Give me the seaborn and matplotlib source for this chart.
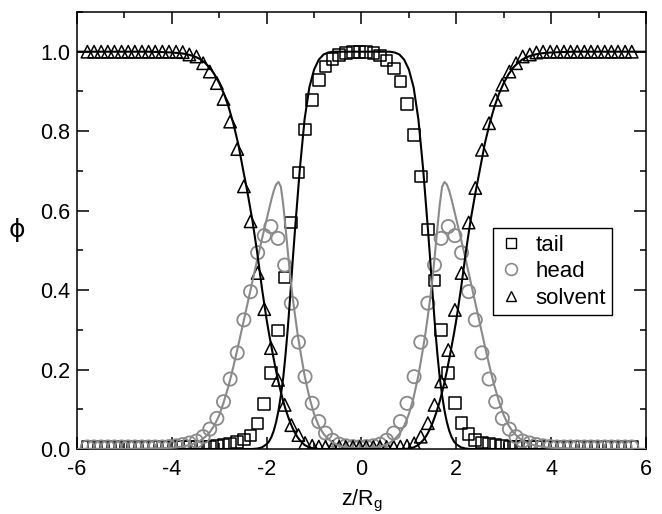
import matplotlib
matplotlib.use("Agg")
import matplotlib.pyplot as plt
import seaborn as sns
import pandas as pd
from matplotlib.lines import Line2D
from matplotlib.ticker import MultipleLocator

# ---------------- data ----------------
# simulation points (markers)
Z = [-5.78, -5.64, -5.49, -5.35, -5.21, -5.06, -4.92, -4.78, -4.63, -4.49,
     -4.35, -4.20, -4.06, -3.91, -3.77, -3.63, -3.48, -3.34, -3.20, -3.05,
     -2.91, -2.77, -2.62, -2.48, -2.34, -2.19, -2.05, -1.91, -1.76, -1.62,
     -1.48, -1.33, -1.19, -1.04, -0.90, -0.76, -0.61, -0.47, -0.33, -0.18,
     -0.04, 0.10, 0.25, 0.39, 0.53, 0.68, 0.82, 0.96, 1.11, 1.25,
     1.40, 1.54, 1.68, 1.83, 1.97, 2.11, 2.26, 2.40, 2.54, 2.69,
     2.83, 2.97, 3.12, 3.26, 3.40, 3.55, 3.69, 3.83, 3.98, 4.12,
     4.27, 4.41, 4.55, 4.70, 4.84, 4.98, 5.13, 5.27, 5.41, 5.56, 5.70]

TAIL = [0.005, 0.005, 0.005, 0.005, 0.005, 0.005, 0.005, 0.005, 0.005, 0.005,
        0.005, 0.005, 0.005, 0.005, 0.005, 0.005, 0.005, 0.005, 0.006, 0.008,
        0.010, 0.013, 0.018, 0.024, 0.034, 0.064, 0.113, 0.192, 0.298, 0.432,
        0.570, 0.696, 0.804, 0.879, 0.929, 0.963, 0.981, 0.992, 0.997, 0.999,
        1.000, 0.999, 0.997, 0.990, 0.978, 0.958, 0.925, 0.869, 0.791, 0.686,
        0.552, 0.424, 0.300, 0.192, 0.115, 0.066, 0.038, 0.022, 0.016, 0.012,
        0.010, 0.008, 0.006, 0.005, 0.005, 0.005, 0.005, 0.005, 0.005, 0.005,
        0.005, 0.005, 0.005, 0.005, 0.005, 0.005, 0.005, 0.005, 0.005, 0.005, 0.005]

HEAD = [0.005, 0.005, 0.005, 0.005, 0.005, 0.005, 0.005, 0.005, 0.005, 0.005,
        0.005, 0.005, 0.006, 0.008, 0.011, 0.015, 0.020, 0.031, 0.050, 0.077,
        0.119, 0.176, 0.242, 0.325, 0.396, 0.494, 0.537, 0.560, 0.530, 0.463,
        0.367, 0.269, 0.182, 0.115, 0.069, 0.040, 0.022, 0.012, 0.008, 0.006,
        0.005, 0.006, 0.008, 0.012, 0.022, 0.040, 0.069, 0.115, 0.182, 0.269,
        0.367, 0.463, 0.530, 0.560, 0.537, 0.494, 0.396, 0.325, 0.242, 0.176,
        0.119, 0.077, 0.050, 0.031, 0.020, 0.015, 0.011, 0.008, 0.006, 0.005,
        0.005, 0.005, 0.005, 0.005, 0.005, 0.005, 0.005, 0.005, 0.005, 0.005, 0.005]

SOLVENT = [1.0, 1.0, 1.0, 1.0, 1.0, 1.0, 1.0, 1.0, 1.0, 1.0,
           1.0, 1.0, 1.0, 1.0, 0.999, 0.993, 0.988, 0.971, 0.950, 0.921,
           0.881, 0.824, 0.755, 0.661, 0.573, 0.443, 0.352, 0.254, 0.174, 0.111,
           0.060, 0.035, 0.015, 0.008, 0.006, 0.005, 0.005, 0.005, 0.005, 0.005,
           0.005, 0.005, 0.005, 0.005, 0.005, 0.005, 0.006, 0.008, 0.014, 0.031,
           0.065, 0.111, 0.170, 0.249, 0.350, 0.443, 0.570, 0.657, 0.753, 0.820,
           0.879, 0.917, 0.950, 0.971, 0.988, 0.993, 0.998, 1.0, 1.0, 1.0,
           1.0, 1.0, 1.0, 1.0, 1.0, 1.0, 1.0, 1.0, 1.0, 1.0, 1.0]

# theory curves (lines)
Z_LINE = [-6.0, -5.5, -5.0, -4.5, -4.2, -4.0, -3.9, -3.8, -3.7, -3.6, -3.5, -3.4,
          -3.3, -3.2, -3.1, -3.0, -2.9, -2.8, -2.7, -2.6, -2.5, -2.4, -2.3, -2.2,
          -2.1, -2.0, -1.95, -1.9, -1.85, -1.8, -1.75, -1.7, -1.65, -1.6, -1.55,
          -1.5, -1.45, -1.4, -1.35, -1.3, -1.2, -1.1, -1.0, -0.9, -0.8, -0.7,
          -0.6, -0.5, -0.4, -0.3, -0.2, -0.1, 0.0,
          0.1, 0.2, 0.3, 0.4, 0.5, 0.6, 0.7, 0.8, 0.9, 1.0, 1.1, 1.2, 1.3,
          1.35, 1.4, 1.45, 1.5, 1.55, 1.6, 1.65, 1.7, 1.75, 1.8, 1.85, 1.9, 1.95,
          2.0, 2.1, 2.2, 2.3, 2.4, 2.5, 2.6, 2.7, 2.8, 2.9, 3.0, 3.1, 3.2, 3.3,
          3.4, 3.5, 3.6, 3.7, 3.8, 3.9, 4.0, 4.2, 4.5, 5.0, 5.5, 6.0]

TAIL_LINE = [0, 0, 0, 0, 0, 0, 0, 0, 0, 0, 0, 0,
             0, 0, 0, 0, 0, 0, 0, 0, 0, 0, 0, 0.001,
             0.004, 0.012, 0.019, 0.030, 0.046, 0.068, 0.097, 0.135, 0.180, 0.240, 0.310,
             0.390, 0.475, 0.555, 0.630, 0.705, 0.830, 0.910, 0.955, 0.980, 0.993, 0.998,
             1.0, 1.0, 1.0, 1.0, 1.0, 1.0, 1.0,
             1.0, 1.0, 1.0, 1.0, 1.0, 1.0, 0.998, 0.993, 0.980, 0.955, 0.910, 0.830, 0.705,
             0.630, 0.555, 0.475, 0.390, 0.310, 0.240, 0.180, 0.135, 0.097, 0.068, 0.046, 0.030, 0.019,
             0.012, 0.004, 0.001, 0, 0, 0, 0, 0, 0, 0, 0, 0, 0, 0,
             0, 0, 0, 0, 0, 0, 0, 0, 0, 0, 0, 0]

HEAD_LINE = [0.0, 0.0, 0.0, 0.001, 0.002, 0.003, 0.004, 0.006, 0.008, 0.011, 0.015, 0.021,
             0.030, 0.042, 0.060, 0.085, 0.120, 0.160, 0.208, 0.260, 0.314, 0.368, 0.422, 0.476,
             0.528, 0.578, 0.603, 0.628, 0.650, 0.666, 0.672, 0.660, 0.615, 0.555, 0.492,
             0.432, 0.380, 0.335, 0.292, 0.254, 0.185, 0.130, 0.088, 0.058, 0.038, 0.025,
             0.016, 0.010, 0.006, 0.004, 0.003, 0.002, 0.002,
             0.002, 0.003, 0.004, 0.006, 0.010, 0.016, 0.025, 0.038, 0.058, 0.088, 0.130, 0.185, 0.254,
             0.292, 0.335, 0.380, 0.432, 0.492, 0.555, 0.615, 0.660, 0.672, 0.666, 0.650, 0.628, 0.603,
             0.578, 0.528, 0.476, 0.422, 0.368, 0.314, 0.260, 0.208, 0.160, 0.120, 0.085, 0.060, 0.042, 0.030,
             0.021, 0.015, 0.011, 0.008, 0.006, 0.004, 0.003, 0.002, 0.001, 0.0, 0.0, 0.0]

SOLVENT_LINE = [1.0, 1.0, 1.0, 1.0, 0.999, 0.998, 0.997, 0.996, 0.994, 0.991, 0.987, 0.981,
                0.972, 0.960, 0.943, 0.921, 0.894, 0.860, 0.818, 0.768, 0.705, 0.643, 0.575, 0.495,
                0.405, 0.325, 0.290, 0.258, 0.226, 0.196, 0.168, 0.143, 0.120, 0.100, 0.082,
                0.066, 0.052, 0.040, 0.030, 0.022, 0.010, 0.004, 0.001, 0, 0, 0,
                0, 0, 0, 0, 0, 0, 0,
                0, 0, 0, 0, 0, 0, 0, 0, 0, 0.001, 0.004, 0.010, 0.022,
                0.030, 0.040, 0.052, 0.066, 0.082, 0.100, 0.120, 0.143, 0.168, 0.196, 0.226, 0.258, 0.290,
                0.325, 0.405, 0.495, 0.575, 0.643, 0.705, 0.768, 0.818, 0.860, 0.894, 0.921, 0.943, 0.960, 0.972,
                0.981, 0.987, 0.991, 0.994, 0.996, 0.997, 0.998, 0.999, 1.0, 1.0, 1.0, 1.0]

LABELS = ["tail", "head", "solvent"]
X_TICKS = [-6, -4, -2, 0, 2, 4, 6]
Y_TICKS = [0.0, 0.2, 0.4, 0.6, 0.8, 1.0]

# ---------------- style ----------------
sns.set_theme(style="white")
plt.rcParams['font.family'] = ['Liberation Sans', 'DejaVu Sans']
plt.rcParams['mathtext.fontset'] = 'custom'
plt.rcParams['mathtext.rm'] = 'Liberation Sans'
plt.rcParams['axes.unicode_minus'] = False

BLACK = "#000000"
GRAY = "#8a8a8a"
FS = 15.5

pts = pd.DataFrame({"z": Z, "tail": TAIL, "head": HEAD, "solvent": SOLVENT})
lines = pd.DataFrame({"z": Z_LINE, "tail": TAIL_LINE, "head": HEAD_LINE,
                      "solvent": SOLVENT_LINE})

fig = plt.figure(figsize=(6.62, 5.14), dpi=100)
ax = fig.add_axes([0.1163, 0.1265, 0.8595, 0.8502])

# markers
sns.scatterplot(data=pts, x="z", y="tail", marker="s", s=70, facecolors="none",
                edgecolor=BLACK, linewidth=1.1, ax=ax, zorder=3)
sns.scatterplot(data=pts, x="z", y="head", marker="o", s=90, facecolors="none",
                edgecolor=GRAY, linewidth=1.3, ax=ax, zorder=3)
sns.scatterplot(data=pts, x="z", y="solvent", marker="^", s=80, facecolors="none",
                edgecolor=BLACK, linewidth=1.1, ax=ax, zorder=3)

# theory lines
sns.lineplot(data=lines, x="z", y="tail", color=BLACK, linewidth=1.5,
             estimator=None, sort=False, ax=ax, zorder=4)
sns.lineplot(data=lines, x="z", y="head", color=GRAY, linewidth=1.5,
             estimator=None, sort=False, ax=ax, zorder=4)
sns.lineplot(data=lines, x="z", y="solvent", color=BLACK, linewidth=1.5,
             estimator=None, sort=False, ax=ax, zorder=4)

ax.set_xlim(-6, 6)
ax.set_ylim(0, 1.1)
ax.set_xticks(X_TICKS)
ax.set_yticks(Y_TICKS)
ax.set_xticklabels([str(t) for t in X_TICKS])
ax.set_yticklabels([f"{t:.1f}" for t in Y_TICKS])
ax.xaxis.set_minor_locator(MultipleLocator(1))
ax.yaxis.set_minor_locator(MultipleLocator(0.1))
ax.tick_params(which="both", direction="in", top=True, right=True,
               bottom=True, left=True, color=BLACK)
ax.tick_params(which="major", length=8.5, width=1.1, labelsize=FS,
               labelcolor=BLACK)
ax.tick_params(axis="y", which="major", pad=5)
ax.tick_params(axis="x", which="major", pad=7)
ax.tick_params(which="minor", length=4, width=1.1)
for sp in ax.spines.values():
    sp.set_color(BLACK)
    sp.set_linewidth(1.1)

ax.set_xlabel(r"z/R$_{\mathregular{g}}$", fontsize=FS, color=BLACK)
ax.xaxis.set_label_coords(0.5, -0.09)
ax.set_ylabel("ϕ", fontsize=18, rotation=0, color=BLACK, va="center", ha="center",
              family=["DejaVu Sans"])
ax.yaxis.set_label_coords(-0.105, 0.5)

handles = [
    Line2D([], [], ls="none", marker="s", mfc="none", mec=BLACK, ms=7.5, mew=1.0),
    Line2D([], [], ls="none", marker="o", mfc="none", mec=GRAY, ms=8.5, mew=1.2),
    Line2D([], [], ls="none", marker="^", mfc="none", mec=BLACK, ms=7.5, mew=1.0),
]
leg = ax.legend(handles, LABELS, loc="upper left", bbox_to_anchor=(0.731, 0.506),
                frameon=True, fancybox=False, edgecolor=BLACK, framealpha=1,
                fontsize=16, handlelength=1.0, handletextpad=0.6,
                borderpad=0.3, labelspacing=0.25, borderaxespad=0)
leg.get_frame().set_linewidth(1.0)
for t in leg.get_texts():
    t.set_color(BLACK)

fig.savefig("out.png", dpi=100)
